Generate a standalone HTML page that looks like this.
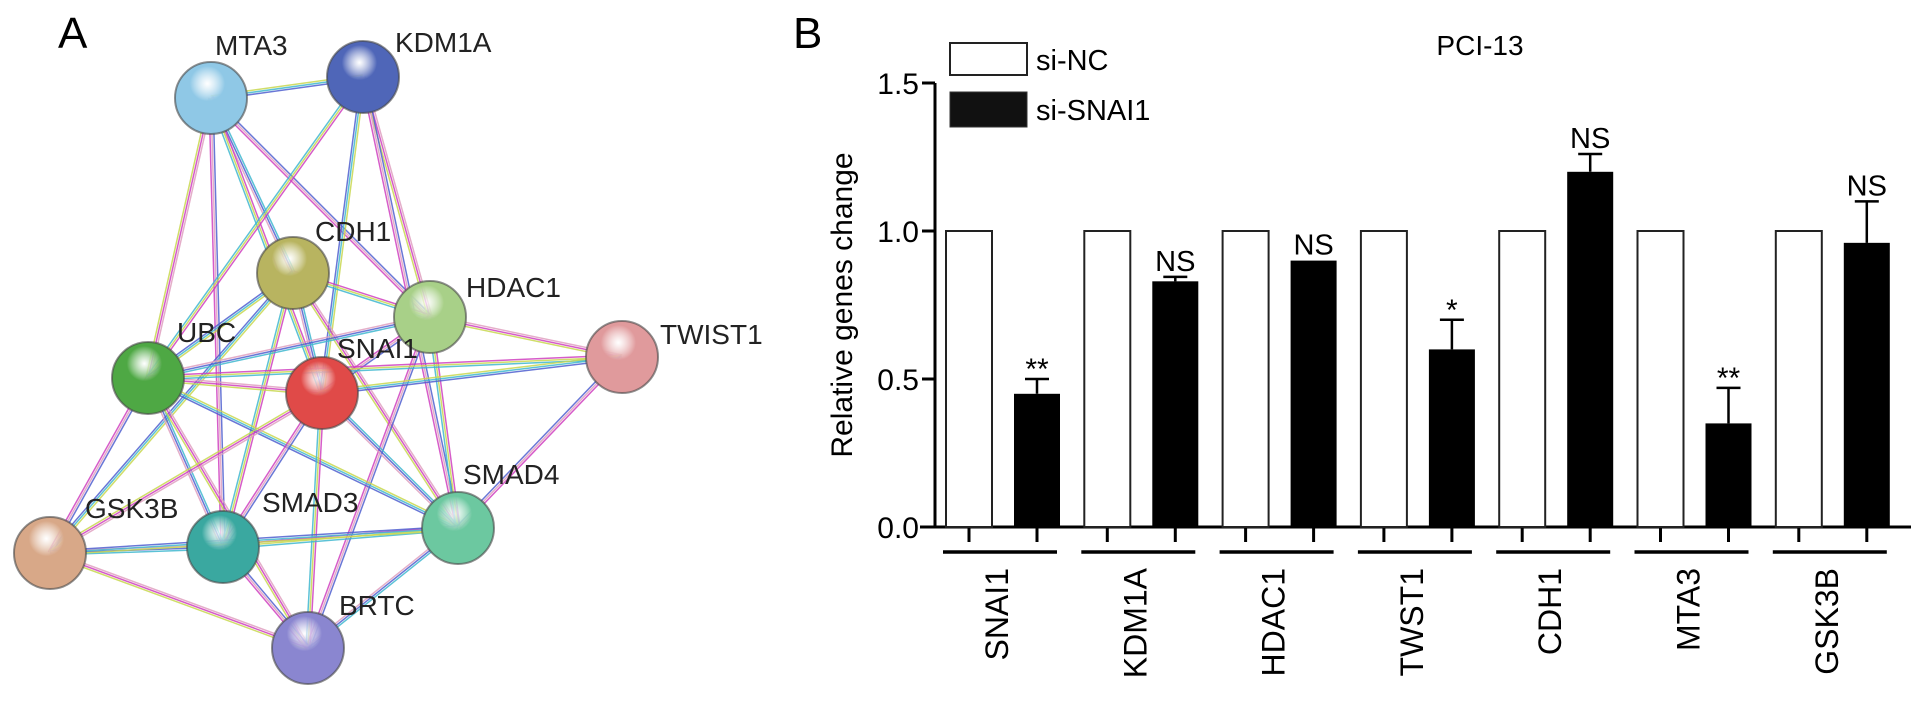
<!DOCTYPE html>
<html><head><meta charset="utf-8"><style>
html,body{margin:0;padding:0;background:#fff;}
svg{display:block;font-family:"Liberation Sans",Arial,sans-serif;}
</style></head><body>
<svg id="fig" width="1913" height="705" viewBox="0 0 1913 705" xmlns="http://www.w3.org/2000/svg">
<defs id="defs"></defs>
<g id="panelA">
<text x="58" y="48" font-size="44">A</text>
<g id="edges"></g>
<g id="nodes"></g>
</g>
<g id="panelB">
<text x="793" y="48" font-size="44">B</text>
<text x="1480" y="55" font-size="28" text-anchor="middle">PCI-13</text>
<rect x="950" y="43" width="77" height="32" fill="#fff" stroke="#222" stroke-width="2"/>
<text x="1036" y="70" font-size="29">si-NC</text>
<rect x="950" y="92" width="77" height="35" fill="#111" stroke="#333" stroke-width="1"/>
<text x="1036" y="120" font-size="29">si-SNAI1</text>
<text transform="translate(852,305) rotate(-90)" font-size="30" text-anchor="middle">Relative genes change</text>
<g id="axes"></g>
<g id="bars"></g>
</g>
</svg>
<script>
var NS="http://www.w3.org/2000/svg";
function mk(t,a,p){var e=document.createElementNS(NS,t);for(var k in a)e.setAttribute(k,a[k]);p.appendChild(e);return e;}
// ---- network ----
var nodeNames=["MTA3","KDM1A","CDH1","HDAC1","UBC","SNAI1","TWIST1","SMAD4","SMAD3","GSK3B","BRTC"];
var nodeX=[211,363,293,430,148,322,622,458,223,50,308];
var nodeY=[98,77,273,317,378,393,357,528,547,553,648];
var nodeColors=["#8fc8e6","#4f66b8","#b8b460","#a8d088","#4ea844","#e04a48","#e09a9c","#6cc8a0","#3aa8a0","#d8a888","#8a86d0"];
var labelX=[215,395,315,466,177,337,660,463,262,85,339];
var labelY=[55,52,241,297,342,358,344,484,512,518,615];
var edges=[[0,1],[0,2],[0,3],[0,4],[0,8],[0,5],[1,4],[1,3],[1,5],[1,7],[2,4],[2,3],[2,5],[2,8],[2,7],[2,9],[3,4],[3,6],[3,7],[3,5],[3,10],[4,5],[4,8],[4,7],[4,9],[4,6],[4,10],[5,8],[5,7],[5,9],[5,10],[5,6],[8,7],[8,9],[8,10],[7,9],[7,10],[7,6],[9,10]];
var edgeCols=["#d040c0","#c8d850","#40b8d0","#5060d0","#e0a0c0"];
var eg=document.getElementById('edges');
edges.forEach(function(e){
  var a=e[0],b=e[1],dx=nodeX[b]-nodeX[a],dy=nodeY[b]-nodeY[a],L=Math.sqrt(dx*dx+dy*dy),nx=-dy/L,ny=dx/L;
  for(var i=0;i<3;i++){var o=(i-1)*2;
    var ln=mk('line',{x1:nodeX[a]+nx*o,y1:nodeY[a]+ny*o,x2:nodeX[b]+nx*o,y2:nodeY[b]+ny*o,stroke:edgeCols[(a+b+i)%5],'stroke-width':1.5,opacity:0.85},eg);
    
    
  }
});
var defs=document.getElementById('defs'),ng=document.getElementById('nodes');
nodeNames.forEach(function(n,i){
  var g=mk('radialGradient',{id:'g'+i,cx:'45%',cy:'30%',r:'70%'},defs);
  mk('stop',{offset:'0%','stop-color':'#fff','stop-opacity':0.7},g);
  mk('stop',{offset:'35%','stop-color':nodeColors[i]},g);
  mk('stop',{offset:'100%','stop-color':nodeColors[i],'stop-opacity':1},g);
  var c=mk('circle',{cx:nodeX[i],cy:nodeY[i],r:36,fill:'url(#g'+i+')',stroke:'#444','stroke-opacity':0.6,'stroke-width':2},ng);
  
  
  var t=mk('text',{x:labelX[i],y:labelY[i],'font-size':28,fill:'#222'},ng);
  t.textContent=n;
  
  
});
// ---- bar chart ----
var categories=["SNAI1","KDM1A","HDAC1","TWST1","CDH1","MTA3","GSK3B"];
var ncValues=[1,1,1,1,1,1,1];
var siValues=[0.45,0.83,0.90,0.60,1.20,0.35,0.96];
var siErrors=[0.05,0.015,0.0,0.10,0.06,0.12,0.14];
var sigLabels=["**","NS","NS","*","NS","**","NS"];
var yTicks=[0,0.5,1.0,1.5];
var yTickLabels=["0.0","0.5","1.0","1.5"];
function yS(v){return 527-v/1.5*444;}
function gX(i){return 946+i*138.3;}
var ax=document.getElementById('axes'),bg=document.getElementById('bars');
var yl=mk('line',{x1:935,y1:yS(1.5),x2:935,y2:528.5,stroke:'#000','stroke-width':3},ax);

var xl=mk('line',{x1:920,y1:527,x2:1911,y2:527,stroke:'#000','stroke-width':3},ax);

yTicks.forEach(function(v,i){
  var tk=mk('line',{x1:922,y1:yS(v),x2:935,y2:yS(v),stroke:'#000','stroke-width':3},ax);
  
  var t=mk('text',{x:919,y:yS(v)+11,'font-size':30,'text-anchor':'end'},ax);
  t.textContent=yTickLabels[i];
  
});
categories.forEach(function(c,i){
  var x=gX(i),w=46;
  var r1=mk('rect',{x:x,y:yS(ncValues[i]),width:w,height:527-yS(ncValues[i]),fill:'#fff',stroke:'#222','stroke-width':2},bg);
  
  var bx=x+68;
  var eTop=yS(siValues[i]+siErrors[i]);
  if(siErrors[i]>0){
    var el=mk('path',{d:'M'+(bx+w/2)+' '+yS(siValues[i])+'V'+eTop+'M'+(bx+w/2-12)+' '+eTop+'H'+(bx+w/2+12),stroke:'#000','stroke-width':2.5,fill:'none'},bg);
    
  }
  var r2=mk('rect',{x:bx,y:yS(siValues[i]),width:w,height:527-yS(siValues[i]),fill:'#000'},bg);
  
  var st=sigLabels[i].indexOf('*')>=0;
  var s=mk('text',{x:bx+w/2,y:eTop-(st?0:6),'font-size':st?30:29,'text-anchor':'middle'},bg);
  s.textContent=sigLabels[i];
  
  [x+w/2,bx+w/2].forEach(function(tx){
    var tk=mk('line',{x1:tx,y1:527,x2:tx,y2:542,stroke:'#000','stroke-width':3},ax);
    
  });
  var ul=mk('line',{x1:x-3,y1:552,x2:x+111,y2:552,stroke:'#000','stroke-width':3.5},ax);
  
  var t=mk('text',{transform:'translate('+(x+62)+',568) rotate(-90)','font-size':32,'text-anchor':'end'},ax);
  t.textContent=c;
  
});
</script>
</body></html>
